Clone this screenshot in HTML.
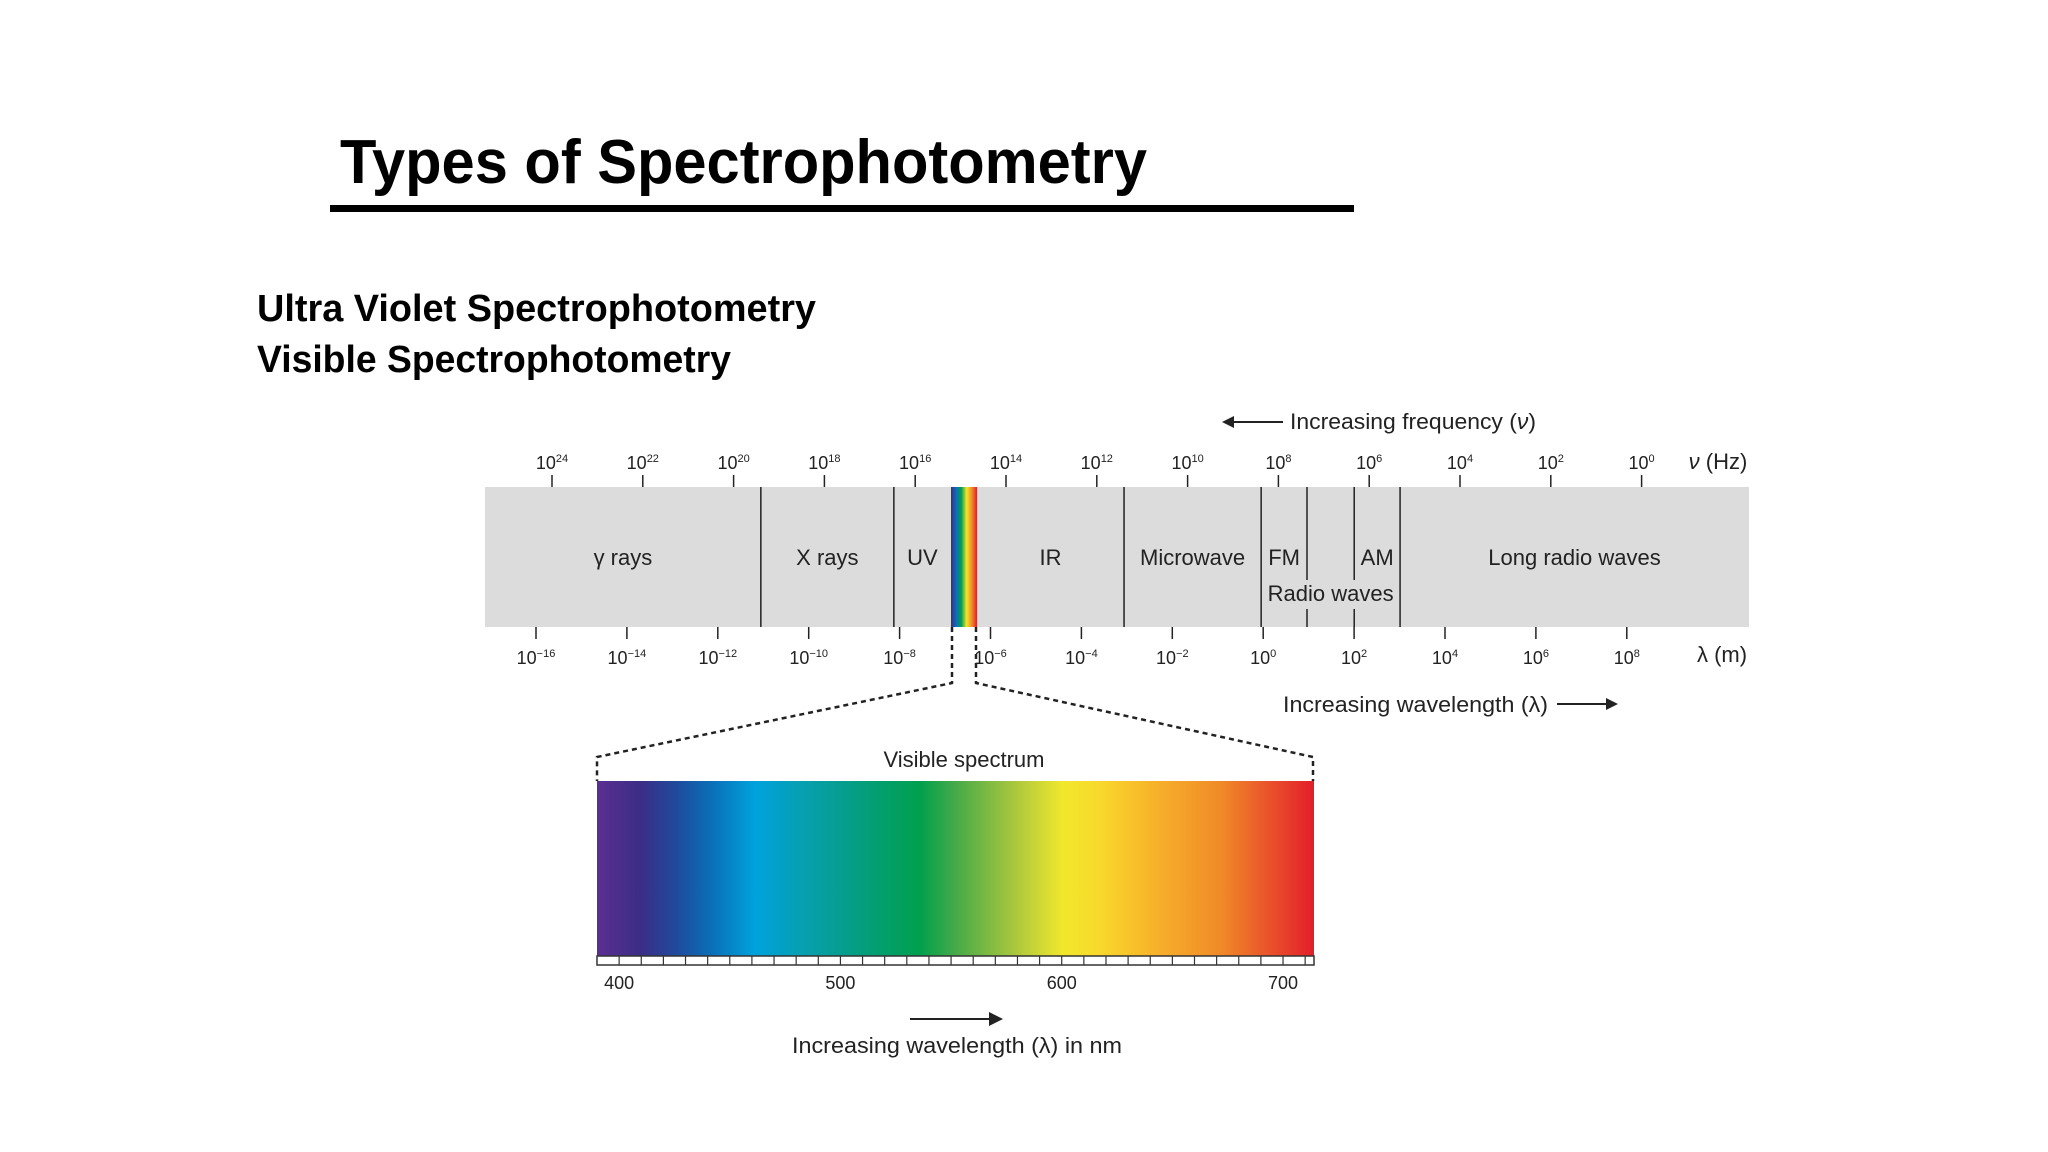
<!DOCTYPE html>
<html><head><meta charset="utf-8"><style>
html,body{margin:0;padding:0;background:#fff;}
svg{display:block;}
text{font-family:"Liberation Sans",sans-serif;}
</style></head><body>
<svg id="chart" width="2048" height="1152" viewBox="0 0 2048 1152">
<defs>
<linearGradient id="vis" x1="0" x2="1" y1="0" y2="0">
<stop offset="0" stop-color="#5b2f91"/><stop offset="0.06" stop-color="#3b2d86"/>
<stop offset="0.11" stop-color="#1f4a9c"/><stop offset="0.16" stop-color="#0a6fb8"/>
<stop offset="0.22" stop-color="#00a2dd"/><stop offset="0.30" stop-color="#079fa8"/>
<stop offset="0.37" stop-color="#049e7d"/><stop offset="0.45" stop-color="#00a04e"/>
<stop offset="0.50" stop-color="#45aa48"/><stop offset="0.58" stop-color="#a7c63e"/>
<stop offset="0.65" stop-color="#f2e72c"/><stop offset="0.70" stop-color="#f8d92b"/>
<stop offset="0.78" stop-color="#f7b12a"/><stop offset="0.87" stop-color="#f08a28"/>
<stop offset="0.94" stop-color="#e9502b"/><stop offset="1" stop-color="#e31e2a"/>
</linearGradient>
<linearGradient id="strip" x1="0" x2="1" y1="0" y2="0">
<stop offset="0" stop-color="#3b2d86"/><stop offset="0.2" stop-color="#0a6fb8"/>
<stop offset="0.4" stop-color="#00a04e"/><stop offset="0.6" stop-color="#f2e72c"/>
<stop offset="0.8" stop-color="#f08a28"/><stop offset="1" stop-color="#e31e2a"/>
</linearGradient>
</defs>
<text x="340" y="183" font-size="62" font-weight="bold" textLength="807" lengthAdjust="spacingAndGlyphs">Types of Spectrophotometry</text>
<rect x="330" y="205" width="1024" height="7" fill="#000"/>
<text x="257" y="321" font-size="38" font-weight="bold" textLength="559" lengthAdjust="spacingAndGlyphs">Ultra Violet Spectrophotometry</text>
<text x="257" y="372" font-size="38" font-weight="bold" textLength="474" lengthAdjust="spacingAndGlyphs">Visible Spectrophotometry</text>

<rect x="485" y="487" width="1264" height="140" fill="#dcdcdc"/>
<rect x="951" y="487" width="26" height="140" fill="url(#strip)"/>
<g id="dividers" stroke="#222" stroke-width="1.5"></g>
<g id="ticks" stroke="#222" stroke-width="1.5"></g>
<g id="labels" font-size="22" fill="#222" text-anchor="middle"></g>

<g>
<line x1="1232" y1="422" x2="1283" y2="422" stroke="#222" stroke-width="2"/>
<polygon points="1222,422 1234,416 1234,428" fill="#222"/>
<text x="1290" y="429" font-size="22" fill="#222" textLength="246" lengthAdjust="spacingAndGlyphs">Increasing frequency (<tspan font-style="italic">ν</tspan>)</text>
</g>
<g>
<text x="1283" y="712" font-size="22" fill="#222" textLength="265" lengthAdjust="spacingAndGlyphs">Increasing wavelength (λ)</text>
<line x1="1557" y1="704" x2="1608" y2="704" stroke="#222" stroke-width="2"/>
<polygon points="1618,704 1606,698 1606,710" fill="#222"/>
</g>
<text x="1718" y="469" font-size="22" fill="#222" text-anchor="middle"><tspan font-style="italic">ν</tspan> (Hz)</text>
<text x="1722" y="662" font-size="22" fill="#222" text-anchor="middle">λ (m)</text>

<g fill="none" stroke="#222" stroke-width="2.5" stroke-dasharray="5,4">
<polyline points="952,627 952,683 597,757 597,781"/>
<polyline points="976,627 976,683 1313,757 1313,781"/>
</g>
<text x="964" y="767" font-size="22" fill="#222" text-anchor="middle">Visible spectrum</text>
<rect x="597" y="781" width="717" height="175" fill="url(#vis)"/>
<g id="nmscale"></g>
<g>
<line x1="910" y1="1019" x2="990" y2="1019" stroke="#222" stroke-width="2"/>
<polygon points="1003,1019 989,1012 989,1026" fill="#222"/>
</g>
<text x="957" y="1053" font-size="22" fill="#222" text-anchor="middle" textLength="330" lengthAdjust="spacingAndGlyphs">Increasing wavelength (λ) in nm</text>
</svg>
<script>
const freqExponents = [24,22,20,18,16,14,12,10,8,6,4,2,0];
const waveExponents = [-16,-14,-12,-10,-8,-6,-4,-2,0,2,4,6,8];
const regionNames = ["γ rays","X rays","UV","IR","Microwave","FM","AM","Long radio waves"];
// region boundaries expressed as frequency exponents (log10 Hz)
const regionBoundsHz = [19.4,16.47,11.4,8.38,7.37,6.33,5.32];
const nmLabels = [400,500,600,700];
const nmMin = 390, nmMax = 714;

const NS = "http://www.w3.org/2000/svg";
function xFreq(e){ return 552 + (24 - e) / 2 * 90.8; }
function xWave(e){ return 536 + (e + 16) / 2 * 90.9; }
function xNm(v){ return 597 + (v - nmMin) / (nmMax - nmMin) * 717; }
function mk(tag, attrs, parent){ const el = document.createElementNS(NS, tag); for (const k in attrs) el.setAttribute(k, attrs[k]); parent.appendChild(el); return el; }

const ticks = document.getElementById('ticks');
const labels = document.getElementById('labels');
freqExponents.forEach(e => {
  const x = xFreq(e);
  const t = mk('line', {x1:x, x2:x, y1:475, y2:487}, ticks);
  
  
  const tx = mk('text', {x:x, y:469, 'font-size':18}, labels);
  
  
  tx.innerHTML = '10<tspan font-size="11" dy="-7">' + e + '</tspan>';
});
waveExponents.forEach(e => {
  const x = xWave(e);
  const t = mk('line', {x1:x, x2:x, y1:627, y2:639}, ticks);
  
  
  const tx = mk('text', {x:x, y:664, 'font-size':18}, labels);
  
  
  tx.innerHTML = '10<tspan font-size="11" dy="-7">' + (e < 0 ? '−' + (-e) : e) + '</tspan>';
});

const div = document.getElementById('dividers');
const bx = regionBoundsHz.map(xFreq);
bx.forEach((x, i) => {
  if (i === 4 || i === 5) {
    const a = mk('line', {x1:x, x2:x, y1:487, y2:580}, div);
    
    
    const b = mk('line', {x1:x, x2:x, y1:609, y2:627}, div);
    
    
  } else {
    const a = mk('line', {x1:x, x2:x, y1:487, y2:627}, div);
    
    
  }
});
// label spans: [left, right] for each region
const spans = [
  [485, bx[0]], [bx[0], bx[1]], [bx[1], 951], [977, bx[2]],
  [bx[2], bx[3]], [bx[3], bx[4]], [bx[5], bx[6]], [bx[6], 1749]
];
regionNames.forEach((n, i) => {
  const cx = (spans[i][0] + spans[i][1]) / 2;
  const t = mk('text', {x:cx, y:565}, labels);
  
  
  t.textContent = n;
});
const rw = mk('text', {x:(bx[3] + bx[6]) / 2, y:601}, labels);


rw.textContent = 'Radio waves';

const sc = document.getElementById('nmscale');
const bar = mk('rect', {x:597, y:956, width:717, height:9, fill:'#fff', stroke:'#333', 'stroke-width':1.5}, sc);


for (let v = nmMin + 10; v < nmMax - 1; v += 10) {
  const x = xNm(v);
  const l = mk('line', {x1:x, x2:x, y1:956, y2:965, stroke:'#333', 'stroke-width':1.2}, sc);
  
  
}
nmLabels.forEach(v => {
  const t = mk('text', {x:xNm(v), y:989, 'font-size':18, fill:'#222', 'text-anchor':'middle'}, sc);
  
  
  t.textContent = v;
});
</script>
</body></html>
